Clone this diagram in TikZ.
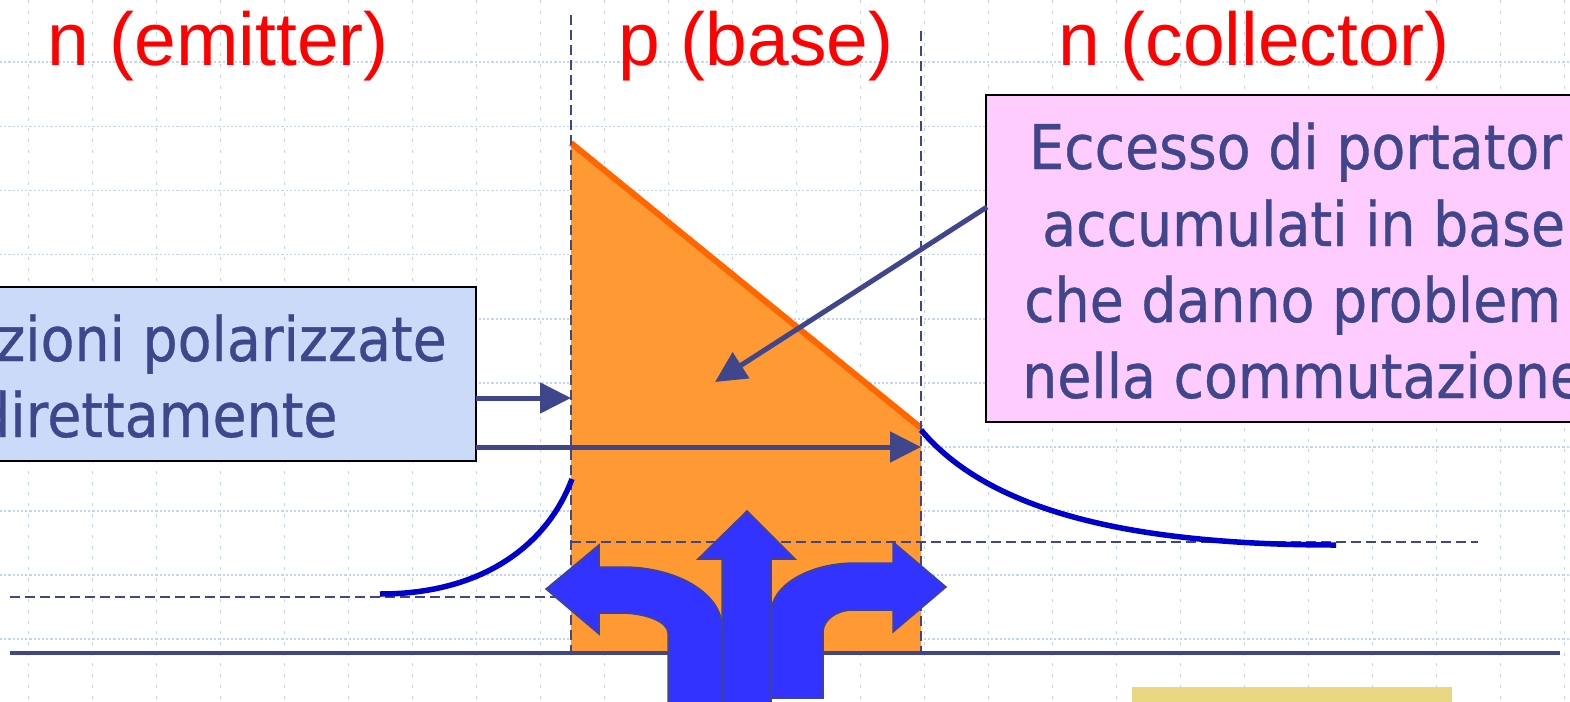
\documentclass[tikz,border=0pt]{standalone}
\usepackage{fontspec}
\setmainfont{Liberation Sans}
\newfontfamily\tahfont[FakeStretch=0.9,FakeBold=0.6]{DejaVu Sans}
\usetikzlibrary{arrows.meta}
\definecolor{txtblue}{RGB}{64,70,140}
\definecolor{curveblue}{RGB}{0,0,204}
\definecolor{arrowfill}{RGB}{51,51,255}
\definecolor{orangefill}{RGB}{255,153,51}
\definecolor{hypline}{RGB}{255,102,0}
\definecolor{lightbluebox}{RGB}{204,218,250}
\definecolor{pinkbox}{RGB}{255,204,255}
\definecolor{yellowbox}{RGB}{233,215,130}
\definecolor{gridcol}{RGB}{196,212,248}
\tikzset{
  gridv/.style={draw=gridcol, line width=1.6, dash pattern=on 3 off 7.7},
  gridh/.style={draw=gridcol, line width=1.6, dash pattern=on 2.2 off 2},
  divider/.style={draw=txtblue, line width=2.2, dash pattern=on 10 off 5},
  redlabel/.style={text=red, inner sep=0, font=\fontsize{75}{90}\selectfont},
  boxtext/.style={text=txtblue, inner sep=0, font=\tahfont\fontsize{61.5}{72}\selectfont},
  conn/.style={draw=txtblue, line width=5, -{Triangle[length=31pt,width=30pt]}},
  bigarrow/.style={fill=arrowfill, draw=txtblue, line width=1.5, line join=miter},
  carrier/.style={draw=curveblue, line width=5.5},
}
\begin{document}
\begin{tikzpicture}[x=1pt,y=-1pt]
\useasboundingbox (0,0) rectangle (1570,701);
\clip (0,0) rectangle (1570,701);
% grid
\foreach \k in {0,...,24} \draw[gridv] ({28.3+64*\k},0) -- ({28.3+64*\k},701);
\foreach \k in {0,...,9} \draw[gridh] (0,{62.3+64.1*\k}) -- (1570,{62.3+64.1*\k});
% emitter level
\draw[divider] (10,597) -- (571,597);
% excess carriers in base
\fill[orangefill] (571,143) -- (921,428) -- (921,653) -- (571,653) -- cycle;
\draw[draw=hypline, line width=6] (571,143) -- (921,428);
% junction dividers
\draw[divider] (571,15) -- (571,653);
\draw[divider] (921,31) -- (921,653);
% collector level
\draw[divider] (571,542) -- (1478,542);
% axis
\draw[draw=txtblue, line width=3.5] (10,653) -- (1560,653);
% minority carrier curves
\draw[carrier] (380,594) .. controls (485,594) and (548,543) .. (572,479);
\draw[carrier] (921,430) .. controls (980,500) and (1100,545) .. (1336,545);
% boxes
\node[draw=black, line width=2, fill=lightbluebox, minimum width=506, minimum height=174, inner sep=0, outer sep=0] (leftbox) at (223,374) {};
\node[draw=black, line width=2, fill=pinkbox, minimum width=634, minimum height=327, inner sep=0, outer sep=0] (pinkbx) at (1303,258.5) {};
\node[boxtext, anchor=base west] (l1) at (-4,361) {zioni polarizzate};
\node[boxtext, anchor=base west] (l2) at (-25,437) {direttamente};
\node[boxtext, anchor=base west] (p1) at (1029,169) {Eccesso di portator};
\node[boxtext, anchor=base west] (p2) at (1042,246) {accumulati in base};
\node[boxtext, anchor=base west] (p3) at (1024,322) {che danno problem};
\node[boxtext, anchor=base west] (p4) at (1022,398) {nella commutazione};
% connectors
\coordinate (j1) at (571,398);
\coordinate (j2) at (921,447);
\coordinate (tgt) at (715,382);
\coordinate (dstart) at (987,207);
\draw[conn] (leftbox.east |- j1) -- (j1);
\draw[conn] (leftbox.east |- j2) -- (j2);
\draw[conn] (dstart) -- (tgt);
% big three-way arrow
\path[bigarrow] (722,720) -- (722,559) -- (698,559) -- (747,511) -- (795,559) -- (771,559) -- (771,720) -- cycle;
\path[bigarrow] (668,720) -- (668,633) .. controls (668,622) and (646,613) .. (620,613) -- (599,613) -- (599,634) -- (546,589) -- (599,545) -- (599,567) -- (623,567) .. controls (677.6,567) and (722,594) .. (722,627) -- (722,720) -- cycle;
\path[bigarrow] (823,698) -- (823,632) .. controls (823,620) and (836.5,610) .. (853,610) -- (893,610) -- (893,632) -- (946,587) -- (893,542) -- (893,563) -- (855,563) .. controls (809,563) and (771,585.5) .. (771,613) -- (771,698) -- cycle;
% yellow box
\fill[yellowbox] (1132,687) rectangle (1452,710);
% region labels
\node[redlabel, anchor=base west] (lblE) at (47,65) {n (emitter)};
\node[redlabel, anchor=base west] (lblB) at (618,65) {p (base)};
\node[redlabel, anchor=base west] (lblC) at (1058,65) {n (collector)};
\end{tikzpicture}
\end{document}
